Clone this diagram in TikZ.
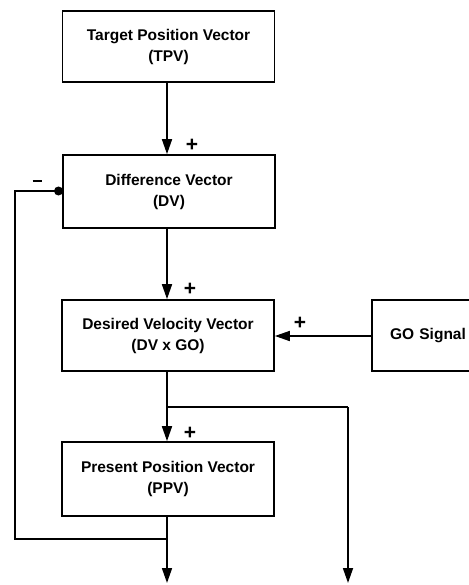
\documentclass[tikz,border=0pt]{standalone}
\usepackage{fontspec}
\setmainfont{Liberation Sans}
\usetikzlibrary{arrows.meta}
\begin{document}
\begin{tikzpicture}[x=1pt,y=-1pt,
  box/.style={draw,line width=1.7pt,minimum width=212pt,inner sep=0pt,align=center,
    font=\fontsize{15.5}{21}\selectfont\bfseries},
  conn/.style={line width=1.7pt},
  arr/.style={conn,-{Triangle[length=15pt,width=10pt]}},
  sign/.style={font=\fontsize{21}{21}\selectfont\bfseries,inner sep=0pt}]
\useasboundingbox (0,0) rectangle (468,585);
\node[box,minimum height=71pt] (tpv) at (168.5,46.5) {Target Position Vector\\(TPV)};
\node[box,minimum height=73pt] (dv) at (169,191.5) {Difference Vector\\(DV)};
\node[box,minimum height=71pt] (dvv) at (168,335.5) {Desired Velocity Vector\\(DV x GO)};
\node[box,minimum height=74pt] (ppv) at (168,479) {Present Position Vector\\(PPV)};
\node[box,minimum width=112pt,minimum height=71pt,text width=112pt] (go) at (428,335.5) {GO Signal\hspace*{4pt}};
\coordinate (j1) at (167,539);
\coordinate (l1) at (15,539);
\coordinate (l2) at (15,191);
\coordinate (b1) at (167,407);
\coordinate (b2) at (348,407);
\coordinate (o1) at (167,583);
\coordinate (o2) at (348,583);
\coordinate (dot) at (58.5,191);
\draw[arr] (tpv.south -| 167,0) -- (dv.north -| 167,0);
\draw[arr] (dv.south -| 167,0) -- (dvv.north -| 167,0);
\draw[arr] (dvv.south -| 167,0) -- (ppv.north -| 167,0);
\draw[arr] (go.west |- 0,336) -- (dvv.east |- 0,336);
\draw[conn] (b1) -- (b2);
\draw[arr] (b2) -- (o2);
\draw[arr] (ppv.south -| 167,0) -- (o1);
\draw[conn] (j1) -- (l1) -- (l2) -- (dot);
\fill (dot) circle (4.5pt);
\node[sign] (p1) at (192,145) {+};
\node[sign] (p2) at (190,289) {+};
\node[sign] (p3) at (300,323) {+};
\node[sign] (p4) at (190,433) {+};
\node[sign] (m1) at (37,181) {\rule{9pt}{1.6pt}};
\end{tikzpicture}
\end{document}
